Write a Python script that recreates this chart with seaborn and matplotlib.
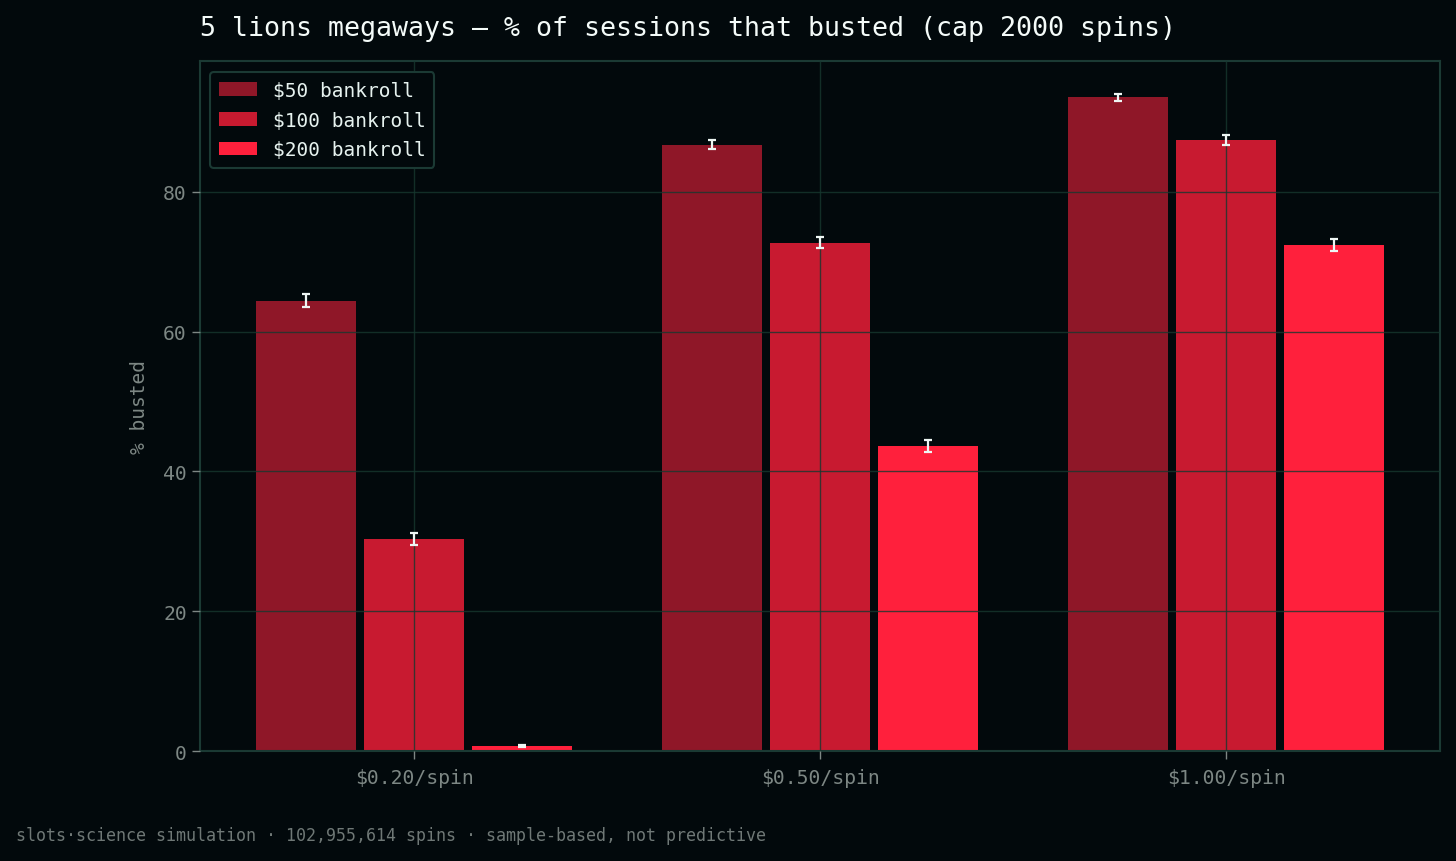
import numpy as np
import pandas as pd
import matplotlib
matplotlib.use("Agg")
import matplotlib.pyplot as plt
import seaborn as sns

# data
bet_sizes = ["$0.20/spin", "$0.50/spin", "$1.00/spin"]
bankrolls = ["$50 bankroll", "$100 bankroll", "$200 bankroll"]
busted_50 = [64.4, 86.7, 93.5]
busted_100 = [30.3, 72.7, 87.4]
busted_200 = [0.7, 43.6, 72.4]
err_50 = [0.95, 0.65, 0.5]
err_100 = [0.85, 0.8, 0.7]
err_200 = [0.15, 0.9, 0.85]

bar_colors = ["#8f1728", "#c81a30", "#ff203c"]
bg = "#02090c"
teal = "#1b3a34"
tick_grey = "#7d8784"

rows = []
for name, vals, errs in zip(bankrolls, [busted_50, busted_100, busted_200],
                            [err_50, err_100, err_200]):
    for bet, v, e in zip(bet_sizes, vals, errs):
        rows.append({"bet": bet, "bankroll": name, "busted": v, "err": e})
df = pd.DataFrame(rows)

sns.set_theme(style="dark")
plt.rcParams["font.family"] = ["DejaVu Sans Mono", "DejaVu Sans"]

fig = plt.figure(figsize=(14.56, 8.62), dpi=100, facecolor=bg)
ax = fig.add_axes([0.1374, 0.1276, 0.8516, 0.8005])
ax.set_facecolor(bg)

sns.barplot(data=df, x="bet", y="busted", hue="bankroll", order=bet_sizes,
            hue_order=bankrolls, palette=bar_colors, errorbar=None,
            width=0.8, gap=0.08, saturation=1, linewidth=0, ax=ax)

# error bars placed at the centres of the drawn bars
for container, name in zip(ax.containers, bankrolls):
    sub = df[df["bankroll"] == name].set_index("bet").loc[bet_sizes]
    xs = [p.get_x() + p.get_width() / 2 for p in container.patches]
    ax.errorbar(xs, sub["busted"].values, yerr=sub["err"].values, fmt="none",
                ecolor="#eef6f4", elinewidth=1.6, capsize=3.2, capthick=1.6,
                zorder=5)

ax.set_xlim(-0.527, 2.527)
ax.set_ylim(0, 98.7)
ax.set_yticks([0, 20, 40, 60, 80])
ax.set_xlabel("")
ax.set_ylabel("% busted", color=tick_grey, fontsize=14, labelpad=10)

ax.set_axisbelow(False)
ax.grid(True, color="#17382f", alpha=0.8, linewidth=1.0)
ax.tick_params(axis="both", colors=tick_grey, labelsize=14.2, length=6,
               width=1, direction="out", bottom=True, left=True)
ax.tick_params(axis="x", pad=6)
for s in ax.spines.values():
    s.set_visible(True)
    s.set_color(teal)
    s.set_linewidth(1.5)

leg = ax.legend(loc="upper left", fontsize=14, frameon=True,
                facecolor=bg, edgecolor=teal, framealpha=1,
                borderpad=0.45, handlelength=2.0, handleheight=0.7,
                labelspacing=0.55, bbox_to_anchor=(0.0, 0.998))
leg.get_frame().set_linewidth(1.5)
for t in leg.get_texts():
    t.set_color("#e6f2ef")

fig.text(200 / 1456, 1 - 36 / 862,
         "5 lions megaways — % of sessions that busted (cap 2000 spins)",
         color="#f4fbf9", fontsize=19.15, ha="left", va="baseline")
fig.text(16 / 1456, 26 / 862,
         "slots·science simulation · 102,955,614 spins · sample-based, not predictive",
         color="#6f7876", fontsize=12, ha="left", va="center")

fig.savefig("out.png", dpi=100, facecolor=bg)
